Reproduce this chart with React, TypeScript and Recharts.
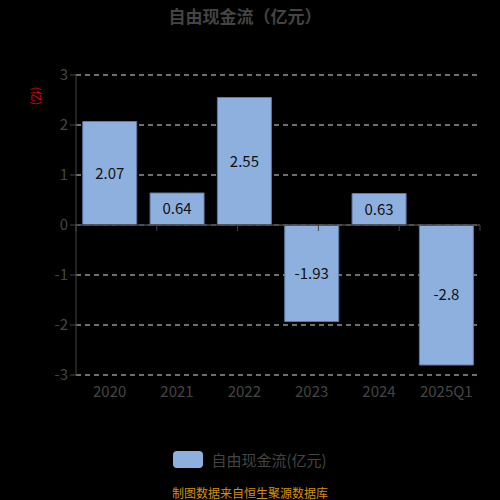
import React from "react";
import {
  BarChart,
  Bar,
  XAxis,
  YAxis,
  CartesianGrid,
  ReferenceLine,
  LabelList,
} from "recharts";

const YEARS = ["2020", "2021", "2022", "2023", "2024", "2025Q1"];
const FCF = [2.07, 0.64, 2.55, -1.93, 0.63, -2.8];
const Y_TICKS = [-3, -2, -1, 0, 1, 2, 3];
const BOUNDARIES = [0, 1, 2, 3, 4, 5, 6];

const BAR_COLOR = "#8EB0DE";
const AXIS_COLOR = "#444";
const FONT = "'Noto Sans CJK SC', 'Noto Sans', sans-serif";

const data = YEARS.map((year, i) => ({ year, value: FCF[i] }));

function LegendBox() {
  return (
    <div
      style={{
        position: "absolute",
        top: 449,
        left: 0,
        width: 500,
        display: "flex",
        justifyContent: "center",
        alignItems: "center",
      }}
    >
      <span
        style={{
          display: "inline-block",
          width: 30,
          height: 17,
          borderRadius: 4,
          backgroundColor: BAR_COLOR,
          marginRight: 8,
        }}
      />
      <span style={{ color: AXIS_COLOR, fontSize: 15 }}>自由现金流(亿元)</span>
    </div>
  );
}

export default function App() {
  return (
    <div style={{ position: "absolute", left: 0, top: 0, width: 500, height: 500, background: "#000", fontFamily: FONT }}>
      <div
        style={{
          position: "absolute",
          top: 3,
          left: 0,
          width: 490,
          textAlign: "center",
          color: AXIS_COLOR,
          fontWeight: "bold",
          fontSize: 17,
        }}
      >
        自由现金流（亿元）
      </div>
      <div
        style={{
          position: "absolute",
          left: 23,
          top: 89,
          width: 28,
          height: 14,
          lineHeight: "14px",
          textAlign: "center",
          color: "#e00",
          fontSize: 11,
          transform: "rotate(90deg)",
          transformOrigin: "center",
        }}
      >
        (亿)
      </div>
      <BarChart
        width={500}
        height={500}
        data={data}
        margin={{ top: 75, right: 20, left: 0, bottom: 95 }}
        barCategoryGap="10%"
      >
        <CartesianGrid vertical={false} stroke="#ddd" strokeDasharray="5 4" />
        <XAxis
          dataKey="year"
          axisLine={false}
          tickLine={false}
          tick={{ fill: AXIS_COLOR, fontSize: 15 }}
          height={30}
          tickMargin={5}
        />
        <XAxis xAxisId="b" type="number" domain={[0, 6]} hide />
        <YAxis
          domain={[-3, 3]}
          ticks={Y_TICKS}
          width={76}
          stroke={AXIS_COLOR}
          tick={{ fill: AXIS_COLOR, fontSize: 15 }}
          tickSize={6}
          interval={0}
        />
        <ReferenceLine y={0} stroke={AXIS_COLOR} strokeWidth={1.5} />
        {BOUNDARIES.map((b) => (
          <ReferenceLine
            key={b}
            xAxisId="b"
            segment={[
              { x: b, y: 0 },
              { x: b, y: -0.12 },
            ]}
            stroke={AXIS_COLOR}
          />
        ))}
        <Bar dataKey="value" fill={BAR_COLOR} stroke="#5d7aa6" strokeWidth={1} isAnimationActive={false}>
          <LabelList dataKey="value" position="center" fill="#111" fontSize={15} />
        </Bar>
      </BarChart>
      <LegendBox />
      <div
        style={{
          position: "absolute",
          top: 484,
          left: 0,
          width: 500,
          textAlign: "center",
          color: "#d4900a",
          fontSize: 12,
        }}
      >
        制图数据来自恒生聚源数据库
      </div>
    </div>
  );
}
